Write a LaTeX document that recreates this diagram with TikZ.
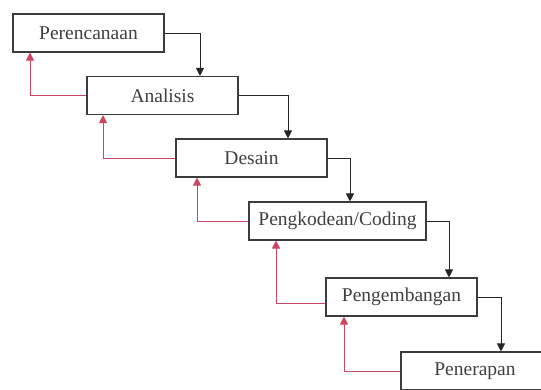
\documentclass[tikz,border=0pt]{standalone}
\usepackage{fontspec}
\setmainfont{Liberation Serif}
\usetikzlibrary{arrows.meta}
\definecolor{fb}{RGB}{205,70,95}
\definecolor{bd}{RGB}{60,60,60}
\begin{document}
\begin{tikzpicture}[x=1pt,y=-1pt,
  stage/.style={draw=bd,line width=1.1pt,fill=white,minimum width=151pt,minimum height=38pt,inner sep=0pt,font=\fontsize{19.5}{22}\selectfont,text=black!75},
  fwd/.style={draw=black!85,line width=0.9pt,-{Triangle[width=8pt,length=8pt]}},
  back/.style={draw=fb,line width=0.9pt,-{Triangle[width=8pt,length=8pt]}}]
\useasboundingbox (0,0) rectangle (541,389);
\clip (0,0) rectangle (541,389);
\node[stage] (b1) at (88.5,33) {Perencanaan};
\node[stage] (b2) at (162.5,95.5) {Analisis};
\node[stage] (b3) at (251.5,158) {Desain};
\node[stage,minimum width=177pt] (b4) at (337.5,221) {Pengkodean/Coding};
\node[stage] (b5) at (401.5,297) {Pengembangan};
\node[stage] (b6) at (476.5,371) {\hspace*{-3pt}Penerapan};
\coordinate (f1) at (200,0);
\coordinate (f2) at (288,0);
\coordinate (f3) at (350,0);
\coordinate (f4) at (449,0);
\coordinate (f5) at (501,0);
\coordinate (r1) at (30,0);
\coordinate (r2) at (103,0);
\coordinate (r3) at (197,0);
\coordinate (r4) at (276,0);
\coordinate (r5) at (344,0);
\draw[fwd] (b1.east) -| (f1 |- b2.north);
\draw[fwd] (b2.east) -| (f2 |- b3.north);
\draw[fwd] (b3.east) -| (f3 |- b4.north);
\draw[fwd] (b4.east) -| (f4 |- b5.north);
\draw[fwd] (b5.east) -| (f5 |- b6.north);
\draw[back] (b2.west) -| (r1 |- b1.south);
\draw[back] (b3.west) -| (r2 |- b2.south);
\draw[back] (b4.west) -| (r3 |- b3.south);
\draw[back] ([yshift=-6pt]b5.west) -| (r4 |- b4.south);
\draw[back] (b6.west) -| (r5 |- b5.south);
\end{tikzpicture}
\end{document}
